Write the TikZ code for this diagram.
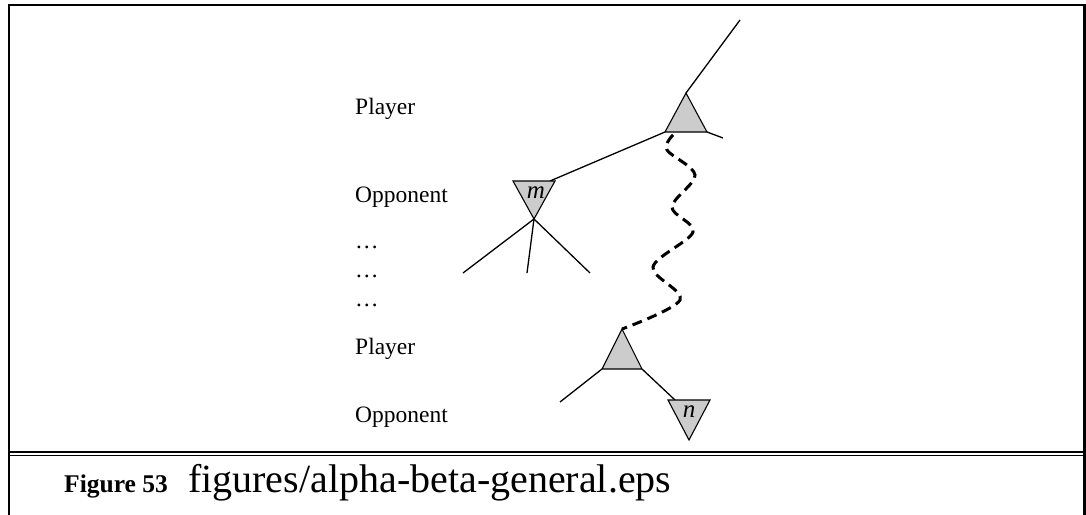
\documentclass[tikz,border=0pt]{standalone}
\usepackage{fontspec}
\setmainfont{Liberation Serif}
\definecolor{trigray}{RGB}{204,204,204}
\begin{document}
\begin{tikzpicture}[x=1pt,y=-1pt,
  edge/.style={line width=1.3pt},
  tri/.style={fill=trigray, draw=black, line width=1.1pt, line join=miter},
  lbl/.style={anchor=base west, inner sep=0pt, font=\fontsize{23.5}{28}\selectfont},
  tlbl/.style={inner sep=0pt, font=\itshape\fontsize{25}{28}\selectfont},
  wave/.style={line width=3pt, dash pattern=on 10pt off 6pt},
  framel/.style={line width=2.6pt},
  rule/.style={line width=1.4pt}]
\useasboundingbox (0,0) rectangle (1086,514);

% frame
\draw[framel] (9,520) -- (9,5) -- (1084.5,5) -- (1084.5,520);
\draw[rule] (9,452) -- (1084.5,452);
\draw[rule] (9,455.5) -- (1084.5,455.5);

% coordinates
\coordinate (top) at (740,20);
\coordinate (t1a) at (686,93);
\coordinate (t1l) at (665,132);
\coordinate (t1r) at (707,132);
\coordinate (t1rr) at (723,138);
\coordinate (ml) at (513,181);
\coordinate (mr) at (555,181);
\coordinate (mb) at (534,219);
\coordinate (mhit) at (550,181);
\coordinate (c1) at (463,273);
\coordinate (c2) at (527,273);
\coordinate (c3) at (590,273);
\coordinate (t2a) at (622,329);
\coordinate (t2l) at (602,369);
\coordinate (t2r) at (642,369);
\coordinate (t2ll) at (560,402);
\coordinate (nl) at (668,400);
\coordinate (nr) at (710,400);
\coordinate (nb) at (689,440);
\coordinate (nhit) at (675,400);
\coordinate (wstart) at (673,135);

% edges
\draw[edge] (top) -- (t1a);
\draw[edge] (t1r) -- (t1rr);
\draw[edge] (t1l) -- (mhit);
\draw[edge] (mb) -- (c1);
\draw[edge] (mb) -- (c2);
\draw[edge] (mb) -- (c3);
\draw[edge] (t2l) -- (t2ll);
\draw[edge] (t2r) -- (nhit);

% triangles
\filldraw[tri] (t1a) -- (t1l) -- (t1r) -- cycle;
\filldraw[tri] (ml) -- (mr) -- (mb) -- cycle;
\filldraw[tri] (t2a) -- (t2l) -- (t2r) -- cycle;
\filldraw[tri] (nl) -- (nr) -- (nb) -- cycle;
\node[tlbl] (mlab) at (536,193) {m};
\node[tlbl] (nlab) at (689,412) {n};

% wavy dashed path
\draw[wave] plot[smooth, tension=0.55] coordinates {(wstart) (667,150) (695,175) (672,207) (693,232) (653,267) (680,300) (t2a)};

% level labels
\node[lbl] (p1) at (355,114) {Player};
\node[lbl] (o1) at (355,202) {Opponent};
\node[lbl] (d1) at (355,248) {…};
\node[lbl] (d2) at (355,277) {…};
\node[lbl] (d3) at (355,306) {…};
\node[lbl] (p2) at (355,354) {Player};
\node[lbl] (o2) at (355,422) {Opponent};

% caption
\node[anchor=base west, inner sep=0pt, font=\bfseries\fontsize{25.5}{30}\selectfont] (fig) at (64,492) {Figure 53};
\node[anchor=base west, inner sep=0pt, font=\fontsize{40}{48}\selectfont] (fname) at (188,492) {figures/alpha-beta-general.eps};
\end{tikzpicture}
\end{document}
